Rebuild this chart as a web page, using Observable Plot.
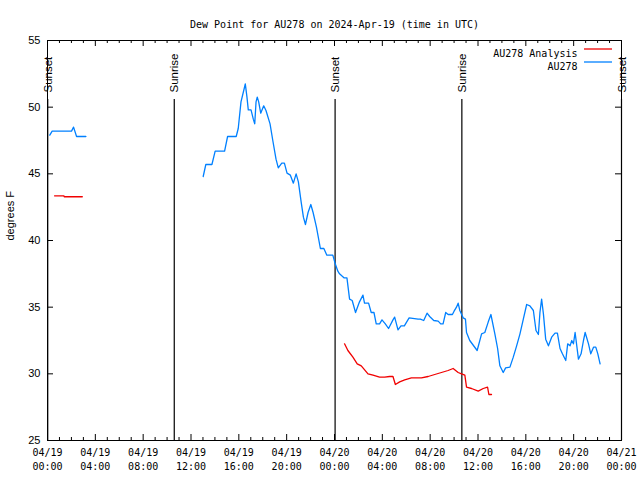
<!DOCTYPE html>
<html>
<head>
<meta charset="utf-8">
<script src="https://cdn.jsdelivr.net/npm/d3@7"></script>
<script src="https://cdn.jsdelivr.net/npm/@observablehq/plot@0.6"></script>
<style>
  html, body { margin: 0; padding: 0; background: #fff; }
  #chart svg { display: block; }
</style>
</head>
<body>
<div id="chart"></div>
<script>
// ---- data (hours after 2024-04-19 00:00 UTC) ----
const titleText = "Dew Point for AU278 on 2024-Apr-19 (time in UTC)";
const yLabel = "degrees F";
const seriesNames = ["AU278 Analysis", "AU278"];
const seriesColors = ["#f00000", "#0080ff"];

const au278Hours = [
  0.19, 0.39, 2.01, 2.18, 2.43, 3.21,
  8.0,
  13.02, 13.24, 13.75, 14.02, 14.81, 15.06, 15.78, 15.95, 16.18, 16.45, 16.54, 16.68, 16.79,
  17.02, 17.21, 17.33, 17.44, 17.54, 17.66, 17.83, 18.08, 18.27, 18.61, 18.84, 19.11, 19.30,
  19.59, 19.81, 20.03, 20.31, 20.56, 20.79, 20.98, 21.21, 21.40, 21.57, 21.79, 22.02, 22.21,
  22.49, 22.82, 23.11, 23.36, 23.86, 24.06, 24.28, 24.42, 24.79, 25.04, 25.26, 25.48, 25.76,
  26.09, 26.38, 26.51, 26.85, 27.07, 27.30, 27.49, 27.77, 27.97, 28.25, 28.52, 28.89, 29.03,
  29.31, 29.56, 29.84, 30.24, 30.99, 31.18, 31.46, 31.74, 31.96, 32.30, 32.67, 32.88, 33.08,
  33.30, 33.50, 33.86, 34.00, 34.20, 34.34, 34.48, 34.76, 34.95, 35.04, 35.31, 35.93, 36.30,
  36.57, 36.86, 37.08, 37.41, 37.64, 37.83, 38.11, 38.31, 38.67, 38.95, 39.23, 39.51, 39.79,
  40.07, 40.34, 40.63, 40.85, 41.05, 41.18, 41.32, 41.47, 41.66, 41.89, 42.16, 42.44, 42.64,
  42.86, 43.06, 43.34, 43.50, 43.70, 43.84, 43.98, 44.12, 44.40, 44.62, 44.82, 44.96, 45.24,
  45.43, 45.66, 45.85, 46.02, 46.21
];
const au278Values = [
  47.9, 48.2, 48.2, 48.5, 47.8, 47.8,
  null,
  44.8, 45.7, 45.7, 46.7, 46.7, 47.8, 47.8, 48.4, 50.4, 51.4, 51.75, 50.75, 49.8,
  49.8, 49.1, 48.75, 50.4, 50.75, 50.4, 49.55, 50.1, 49.75, 48.75, 47.5, 46.1, 45.45,
  45.8, 45.8, 45.05, 44.9, 44.3, 45.0, 44.4, 42.9, 41.75, 41.2, 42.1, 42.7, 42.1,
  41.0, 39.4, 39.4, 38.9, 38.9, 38.25, 37.7, 37.5, 37.2, 37.2, 35.6, 35.5, 34.6,
  35.4, 35.9, 35.3, 35.3, 34.6, 34.6, 33.75, 33.75, 34.05, 33.75, 33.4, 34.05, 34.25,
  33.3, 33.6, 33.6, 34.2, 34.1, 34.1, 34.0, 34.55, 34.3, 34.0, 33.95, 33.75, 33.75,
  34.6, 34.45, 34.45, 34.7, 35.0, 35.3, 34.75, 34.2, 34.1, 33.1, 32.5, 31.75, 33.0,
  33.1, 33.9, 34.45, 33.0, 31.9, 30.6, 30.1, 30.45, 30.5, 31.25, 32.1, 33.0, 34.1,
  35.2, 35.1, 34.75, 33.25, 32.95, 34.6, 35.6, 34.5, 32.6, 32.1, 32.75, 33.05, 33.05,
  31.9, 31.5, 31.0, 32.25, 32.1, 32.5, 32.25, 33.1, 31.1, 31.5, 32.5, 33.1, 32.25,
  31.5, 32.0, 32.0, 31.5, 30.75
];

const analysisHours = [
  0.59, 1.37, 1.40, 2.91,
  10.0,
  24.84, 25.12, 25.54, 25.90, 26.24, 26.80, 27.22, 27.77, 28.19, 28.61, 28.89, 29.09, 29.45,
  29.87, 30.43, 31.27, 31.83, 32.38, 32.94, 33.50, 33.92, 34.34, 34.62, 34.90, 35.04, 35.46,
  36.02, 36.44, 36.80, 36.91, 37.13
];
const analysisValues = [
  43.35, 43.35, 43.28, 43.28,
  null,
  32.25, 31.75, 31.25, 30.75, 30.6, 30.0, 29.9, 29.75, 29.75, 29.8, 29.8, 29.2, 29.4,
  29.55, 29.7, 29.7, 29.8, 29.95, 30.1, 30.25, 30.4, 30.1, 30.0, 29.9, 29.0, 28.9,
  28.7, 28.9, 29.0, 28.45, 28.45
];

const sunLabels = ["Sunset", "Sunrise", "Sunset", "Sunrise", "Sunset"];
const sunHours = [0.02, 10.6, 24.05, 34.65, 48.0];

const yTicks = [25, 30, 35, 40, 45, 50, 55];
const xMajorHours = [0, 4, 8, 12, 16, 20, 24, 28, 32, 36, 40, 44, 48];

// ---- build ----
const START = Date.UTC(2024, 3, 19);
const toDate = h => new Date(START + h * 3600000);

const au278 = au278Hours.map((h, i) => ({t: toDate(h), v: au278Values[i]}));
const analysis = analysisHours.map((h, i) => ({t: toDate(h), v: analysisValues[i]}));
const sun = sunHours.map((h, i) => ({t: toDate(h), label: sunLabels[i]}));
const majorDates = xMajorHours.map(toDate);
const minorDates = d3.range(0, 49).filter(h => h % 4 !== 0).map(toDate);
const fmt = d3.utcFormat("%m/%d\n%H:%M");

const W = 640, H = 480, ML = 47, MR = 19, MT = 40, MB = 40;
const innerH = H - MT - MB, innerW = W - ML - MR;
const mono = "DejaVu Sans Mono";
const sans = "Liberation Sans, Arial, sans-serif";
const legendRows = [9, 22];

const chart = Plot.plot({
  width: W, height: H,
  marginLeft: ML, marginRight: MR, marginTop: MT, marginBottom: MB,
  style: {fontFamily: mono, fontSize: "10px", background: "#fff", color: "#000"},
  x: {type: "utc", domain: [toDate(0), toDate(48)]},
  y: {domain: [25, 55]},
  marks: [
    // x ticks (inward), bottom and top
    Plot.ruleX(minorDates, {insetTop: innerH - 3, stroke: "#000"}),
    Plot.ruleX(minorDates, {insetBottom: innerH - 3, stroke: "#000"}),
    Plot.ruleX(majorDates, {insetTop: innerH - 6, stroke: "#000"}),
    Plot.ruleX(majorDates, {insetBottom: innerH - 6, stroke: "#000"}),
    // y ticks (inward), left and right
    Plot.ruleY(yTicks, {insetRight: innerW - 6, stroke: "#000"}),
    Plot.ruleY(yTicks, {insetLeft: innerW - 6, stroke: "#000"}),
    Plot.axisX({ticks: majorDates, tickSize: 0, tickPadding: 6, tickFormat: fmt,
      fontFamily: mono, fontSize: 10, lineHeight: 1.4, label: null}),
    Plot.axisY({ticks: yTicks, tickSize: 0, tickPadding: 7, fontFamily: sans, fontSize: 11, label: null}),
    // sunrise / sunset
    Plot.ruleX(sun, {x: "t", insetTop: 59, stroke: "#000", strokeWidth: 1.2}),
    Plot.text(sun, {x: "t", text: "label", frameAnchor: "top", dy: 52, dx: -4, rotate: -90,
      textAnchor: "start", fontFamily: sans, fontSize: 11.5}),
    // data
    Plot.line(analysis, {x: "t", y: "v", stroke: seriesColors[0], strokeWidth: 1.3}),
    Plot.line(au278, {x: "t", y: "v", stroke: seriesColors[1], strokeWidth: 1.3}),
    Plot.frame({stroke: "#000"}),
    // title and y label
    Plot.text([titleText], {frameAnchor: "top", dy: -20, fontFamily: mono, fontSize: 10}),
    Plot.text([yLabel], {frameAnchor: "left", dx: -37, rotate: -90, fontFamily: sans, fontSize: 11}),
    // legend labels
    Plot.text([seriesNames[0]], {frameAnchor: "top-right", dx: -44, dy: legendRows[0],
      textAnchor: "end", fontFamily: mono, fontSize: 10}),
    Plot.text([seriesNames[1]], {frameAnchor: "top-right", dx: -44, dy: legendRows[1],
      textAnchor: "end", fontFamily: mono, fontSize: 10})
  ]
});

// legend line samples
const svg = d3.select(chart);
const lg = svg.append("g");
seriesNames.forEach((name, i) => {
  lg.append("line")
    .attr("x1", W - MR - 37).attr("x2", W - MR - 9)
    .attr("y1", MT + legendRows[i]).attr("y2", MT + legendRows[i])
    .attr("stroke", seriesColors[i]).attr("stroke-width", 1.3);
});

document.getElementById("chart").appendChild(chart);
</script>
</body>
</html>
